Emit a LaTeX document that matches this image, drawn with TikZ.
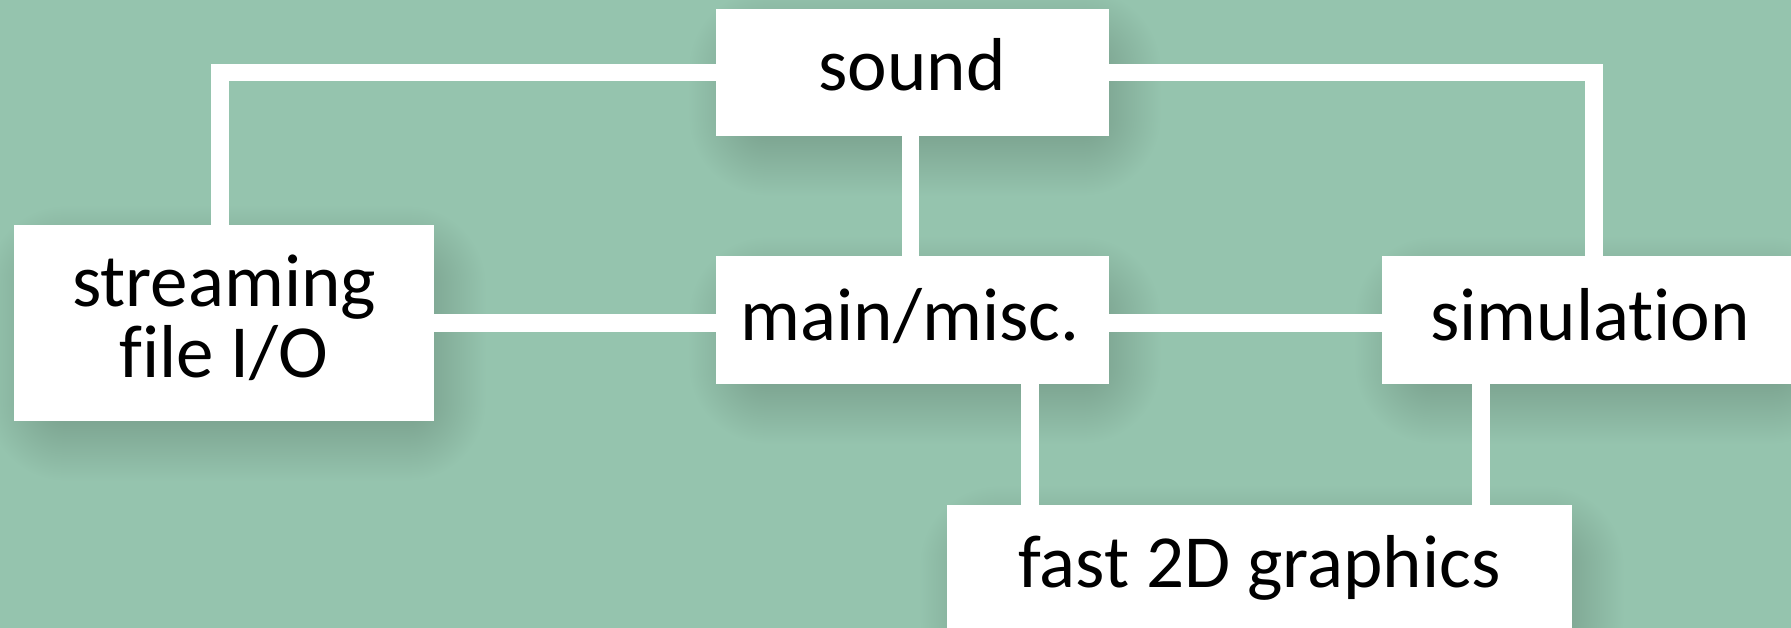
\documentclass[tikz,border=0pt]{standalone}
\usepackage{fontspec}
\setmainfont{Carlito}[Ligatures=NoCommon]
\usetikzlibrary{calc}
\definecolor{bgc}{HTML}{95C4AE}
\definecolor{shc}{HTML}{769C89}
\pgfdeclarelayer{bglayer}
\pgfdeclarelayer{shadowlayer}
\pgfsetlayers{bglayer,shadowlayer,main}
\newcommand\shdx{12}
\newcommand\shdy{20}
\newcommand\shr{40}
\newcommand\dshadow[1]{%
  \coordinate (#1-A) at ($(#1.north west)+(\shdx+\shr,\shdy+\shr)$);
  \coordinate (#1-B) at ($(#1.south east)+(\shdx-\shr,\shdy-\shr)$);
  \coordinate (#1-C) at ($(#1.north west)+(\shdx-\shr,\shdy-\shr)$);
  \coordinate (#1-D) at ($(#1.south east)+(\shdx+\shr,\shdy+\shr)$);
  \fill[shc] (#1-A) rectangle (#1-B);
  \shade[top color=bgc, bottom color=shc] (#1-C -| #1-A) rectangle (#1-A -| #1-B);
  \shade[top color=shc, bottom color=bgc] (#1-B -| #1-A) rectangle (#1-D -| #1-B);
  \shade[left color=bgc, right color=shc] (#1-A -| #1-C) rectangle (#1-B -| #1-A);
  \shade[left color=shc, right color=bgc] (#1-A -| #1-B) rectangle (#1-D |- #1-B);
  \begin{scope}\clip (#1-C) rectangle (#1-A);
    \shade[inner color=shc, outer color=bgc] (#1-A) circle (2*\shr pt);\end{scope}
  \begin{scope}\clip (#1-C -| #1-B) rectangle (#1-A -| #1-D);
    \shade[inner color=shc, outer color=bgc] (#1-A -| #1-B) circle (2*\shr pt);\end{scope}
  \begin{scope}\clip (#1-B -| #1-C) rectangle (#1-D -| #1-A);
    \shade[inner color=shc, outer color=bgc] (#1-B -| #1-A) circle (2*\shr pt);\end{scope}
  \begin{scope}\clip (#1-B) rectangle (#1-D);
    \shade[inner color=shc, outer color=bgc] (#1-B) circle (2*\shr pt);\end{scope}
}
\tikzset{
  box/.style={fill=white, draw=none, inner sep=0pt},
  lbl/.style={anchor=base, inner sep=0pt, font=\fontsize{75}{90}\selectfont},
  wire/.style={draw=white, line width=17.5pt}
}
\begin{document}
\begin{tikzpicture}[x=1pt,y=-1pt]
\begin{pgfonlayer}{bglayer}
\fill[bgc] (0,0) rectangle (1791,628);
\end{pgfonlayer}
\useasboundingbox (0,0) rectangle (1791,628);
% boxes
\node[box, minimum width=393pt, minimum height=127pt] (sound) at (912.5,72.5) {};
\node[box, minimum width=420pt, minimum height=196pt] (stream) at (224,323) {};
\node[box, minimum width=393pt, minimum height=128pt] (main) at (912.5,320) {};
\node[box, minimum width=416pt, minimum height=128pt] (sim) at (1590,320) {};
\node[box, minimum width=625pt, minimum height=132pt] (fast) at (1259.5,571) {};
% shadows
\begin{pgfonlayer}{shadowlayer}
\dshadow{sound}\dshadow{stream}\dshadow{main}\dshadow{sim}\dshadow{fast}
\end{pgfonlayer}
% connectors
\draw[wire] (sound.west) -| ([xshift=-4pt]stream.north);
\draw[wire] (sound.east) -| ([xshift=4pt]sim.north);
\draw[wire] ([xshift=-2pt]sound.south) -- ([xshift=-2pt]main.north);
\draw[wire] (stream.east) -- (stream.east -| main.west);
\draw[wire] ([yshift=-3pt]main.east) -- ([yshift=-3pt]main.east -| sim.west);
\draw[wire] ([xshift=117.5pt]main.south) -- ([xshift=117.5pt]main.south |- fast.north);
\draw[wire] ([xshift=-109pt]sim.south) -- ([xshift=-109pt]sim.south |- fast.north);
% labels
\node[lbl] (tsound) at (912,91) {sound};
\node[lbl] (tstream1) at (224,307) {streaming};
\node[lbl] (tstream2) at (224,377) {file I/O};
\node[lbl] (tmain) at (910,340) {main/misc.};
\node[lbl] (tsim) at (1590,340) {simulation};
\node[lbl] (tfast) at (1259.5,587) {fast 2D graphics};
\end{tikzpicture}
\end{document}
